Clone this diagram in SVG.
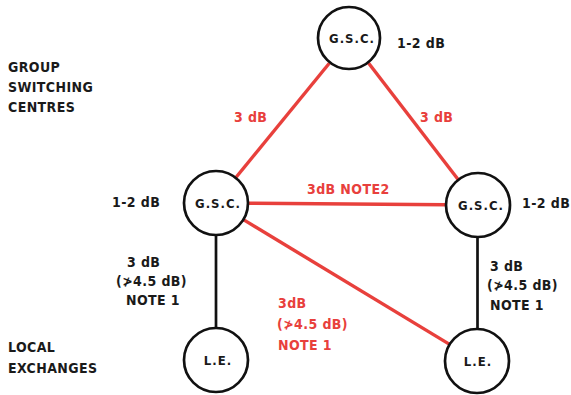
<svg xmlns="http://www.w3.org/2000/svg" width="571" height="395" viewBox="0 0 571 395">
<style>
text{font-family:"DejaVu Sans Condensed","DejaVu Sans",sans-serif;font-weight:bold;font-size:14px;letter-spacing:0.4px;fill:#1a1a1a}
.r{fill:#e8403c}
.node circle{fill:#fff;stroke:#111;stroke-width:2.7}
.node text{text-anchor:middle;font-size:13px;letter-spacing:1px}
.red{stroke:#e8403c;stroke-width:3.4;fill:none}
.blk{stroke:#111;stroke-width:2.7;fill:none}
</style>
<rect width="571" height="395" fill="#fff"/>
<g id="connectors">
<line class="red" x1="329.5" y1="63" x2="235.5" y2="178"/>
<line class="red" x1="368.5" y1="63" x2="458.5" y2="180"/>
<line class="red" x1="248" y1="203.2" x2="446" y2="204.8"/>
<line class="red" x1="243.4" y1="219.6" x2="449.6" y2="344.4"/>
<line class="blk" x1="216" y1="235" x2="216" y2="328"/>
<line class="blk" x1="477.5" y1="237" x2="477.5" y2="329"/>
</g>
<g id="gsc-top" class="node"><circle cx="349" cy="38" r="31"/><text x="352" y="43">G.S.C.</text></g>
<g id="gsc-left" class="node"><circle cx="216" cy="203" r="32"/><text x="218" y="208">G.S.C.</text></g>
<g id="gsc-right" class="node"><circle cx="478" cy="205" r="32"/><text x="481" y="210">G.S.C.</text></g>
<g id="le-left" class="node"><circle cx="216" cy="360" r="32"/><text x="218" y="365">L.E.</text></g>
<g id="le-right" class="node"><circle cx="477" cy="361" r="32"/><text x="478" y="366">L.E.</text></g>
<g id="labels">
<text x="8" y="72">GROUP</text>
<text x="8" y="92">SWITCHING</text>
<text x="8" y="112">CENTRES</text>
<text x="8" y="352">LOCAL</text>
<text x="8" y="373">EXCHANGES</text>
<text x="397" y="48">1-2 dB</text>
<text x="112" y="207">1-2 dB</text>
<text x="522" y="208">1-2 dB</text>
<text class="r" x="234" y="122">3 dB</text>
<text class="r" x="420" y="122">3 dB</text>
<text class="r" x="307" y="194">3dB NOTE2</text>
<text x="127" y="267">3 dB</text>
<text x="116" y="286">(≯4.5 dB)</text>
<text x="126" y="305">NOTE 1</text>
<text x="490" y="271">3 dB</text>
<text x="487" y="290">(≯4.5 dB)</text>
<text x="490" y="310">NOTE 1</text>
<text class="r" x="278" y="308">3dB</text>
<text class="r" x="277" y="329">(≯4.5 dB)</text>
<text class="r" x="278" y="350">NOTE 1</text>
</g>
</svg>
